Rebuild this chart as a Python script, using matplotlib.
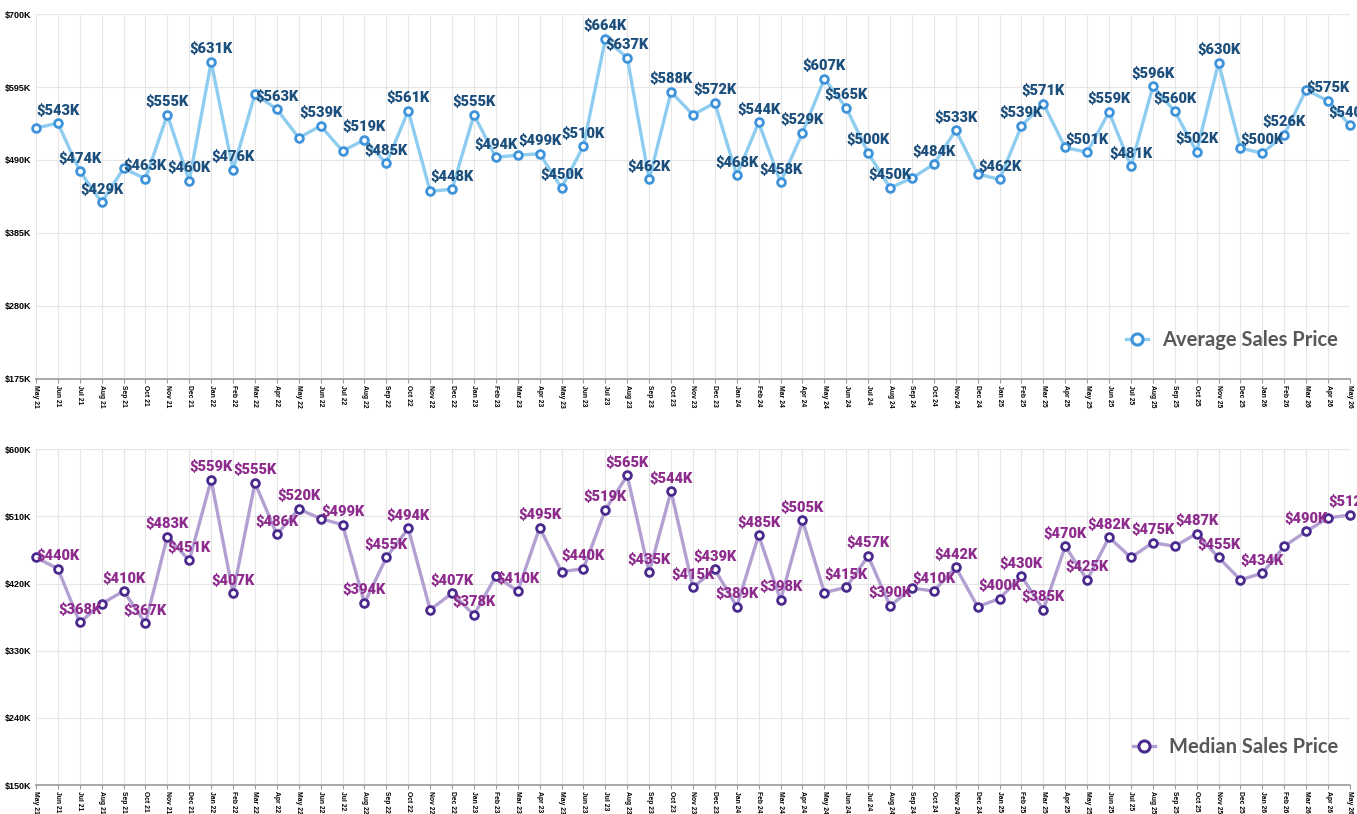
import matplotlib

matplotlib.use("Agg")
import matplotlib.pyplot as plt
import pandas as pd
from matplotlib.lines import Line2D
from matplotlib.ticker import FuncFormatter

months = pd.date_range("2021-05-01", "2026-05-01", freq="MS").strftime("%b %y").tolist()

# средняя цена продажи, тыс. $
avg_price = [
    536, 543, 474, 429, 478, 463, 555, 460, 631, 476, 585, 563,
    522, 539, 503, 519, 485, 561, 445, 448, 555, 494, 497, 499,
    450, 510, 664, 637, 462, 588, 555, 572, 468, 544, 458, 529,
    607, 565, 500, 450, 464, 484, 533, 470, 462, 539, 571, 508,
    501, 559, 481, 596, 560, 502, 630, 507, 500, 526, 591, 575,
    540,
]
# медианная цена продажи, тыс. $
med_price = [
    455, 440, 368, 393, 410, 367, 483, 451, 559, 407, 555, 486,
    520, 507, 499, 394, 455, 494, 385, 407, 378, 430, 410, 495,
    436, 440, 519, 565, 435, 544, 415, 439, 389, 485, 398, 505,
    408, 415, 457, 390, 414, 410, 442, 389, 400, 430, 385, 470,
    425, 482, 455, 475, 470, 487, 455, 425, 434, 470, 490, 508,
    512,
]
avg_ticks = [175, 280, 385, 490, 595, 700]
med_ticks = [150, 240, 330, 420, 510, 600]

# подписи, которые видны на исходнике (остальные скрыты из-за наложения)
avg_labeled = [
    "Jun 21", "Jul 21", "Aug 21", "Oct 21", "Nov 21", "Dec 21", "Jan 22", "Feb 22",
    "Apr 22", "Jun 22", "Aug 22", "Sep 22", "Oct 22", "Dec 22", "Jan 23", "Feb 23",
    "Apr 23", "May 23", "Jun 23", "Jul 23", "Aug 23", "Sep 23", "Oct 23", "Dec 23",
    "Jan 24", "Feb 24", "Mar 24", "Apr 24", "May 24", "Jun 24", "Jul 24", "Aug 24",
    "Oct 24", "Nov 24", "Jan 25", "Feb 25", "Mar 25", "May 25", "Jun 25", "Jul 25",
    "Aug 25", "Sep 25", "Oct 25", "Nov 25", "Jan 26", "Feb 26", "Apr 26", "May 26",
]
med_labeled = [
    "Jun 21", "Jul 21", "Sep 21", "Oct 21", "Nov 21", "Dec 21", "Jan 22", "Feb 22",
    "Mar 22", "Apr 22", "May 22", "Jul 22", "Aug 22", "Sep 22", "Oct 22", "Dec 22",
    "Jan 23", "Mar 23", "Apr 23", "Jun 23", "Jul 23", "Aug 23", "Sep 23", "Oct 23",
    "Nov 23", "Dec 23", "Jan 24", "Feb 24", "Mar 24", "Apr 24", "Jun 24", "Jul 24",
    "Aug 24", "Oct 24", "Nov 24", "Jan 25", "Feb 25", "Mar 25", "Apr 25", "May 25",
    "Jun 25", "Aug 25", "Oct 25", "Nov 25", "Jan 26", "Mar 26", "May 26",
]

LABEL_FONT = ["Roboto", "DejaVu Sans"]
AXIS_FONT = ["Liberation Sans", "DejaVu Sans"]
LEGEND_FONT = ["Lato", "DejaVu Sans"]


def draw_panel(ax, values, labeled, yticks, line_c, mark_c, text_c, name):
    x = list(range(len(months)))
    ax.plot(x, values, color=line_c, lw=2.4, zorder=3, solid_capstyle="round")
    ax.plot(x, values, ls="none", marker="o", ms=5.6, mfc="white", mec=mark_c,
            mew=2.0, zorder=4, clip_on=False)
    for i, (m, v) in enumerate(zip(months, values)):
        if m in labeled:
            ax.annotate(f"${v}K", (i, v), xytext=(0, 4.0), textcoords="offset points",
                        ha="center", va="bottom", fontsize=10.5, fontweight="heavy",
                        color=text_c, family=LABEL_FONT, zorder=5,
                        annotation_clip=False)

    ax.set_xlim(0, len(months) - 1)
    ax.set_ylim(yticks[0], yticks[-1])
    ax.set_yticks(yticks)
    ax.yaxis.set_major_formatter(FuncFormatter(lambda v, _: f"${v:.0f}K"))
    ax.set_xticks(x, months, rotation=-90, ha="center", va="top")
    for t in ax.get_xticklabels():
        t.set_fontsize(4.9)
        t.set_fontweight("bold")
        t.set_family(AXIS_FONT)
    for t in ax.get_yticklabels():
        t.set_fontsize(6.5)
        t.set_fontweight("bold")
        t.set_family(AXIS_FONT)
    ax.tick_params(axis="y", length=0, pad=3.5)
    ax.tick_params(axis="x", length=3, width=0.8, color="#999999", pad=1.5)
    ax.grid(True, color="#e6e6e6", lw=0.8, zorder=0)
    for s in ("top", "right", "left"):
        ax.spines[s].set_visible(False)
    ax.spines["bottom"].set_color("#999999")
    ax.spines["bottom"].set_linewidth(1.2)

    handle = Line2D([], [], color=line_c, lw=2.4, marker="o", ms=8, mfc="white",
                    mec=mark_c, mew=2.2)
    leg = ax.legend([handle], [name], loc="lower right", bbox_to_anchor=(1.005, 0.03),
                    frameon=False, handlelength=1.1, handletextpad=0.7,
                    prop={"family": LEGEND_FONT, "weight": "bold", "size": 14.5})
    for t in leg.get_texts():
        t.set_color("#58585a")


fig = plt.figure(figsize=(13.57, 8.14), dpi=100)
ax1 = fig.add_axes([0.0265, 0.5344, 0.9683, 0.4484])
ax2 = fig.add_axes([0.0265, 0.0356, 0.9683, 0.4124])

draw_panel(ax1, avg_price, avg_labeled, avg_ticks, "#8fcdf0", "#3f93da", "#1d4f7c",
           "Average Sales Price")
draw_panel(ax2, med_price, med_labeled, med_ticks, "#b3a0d2", "#4a2a8c", "#8e2c8e",
           "Median Sales Price")

fig.savefig("out.png", dpi=100)
plt.close(fig)
